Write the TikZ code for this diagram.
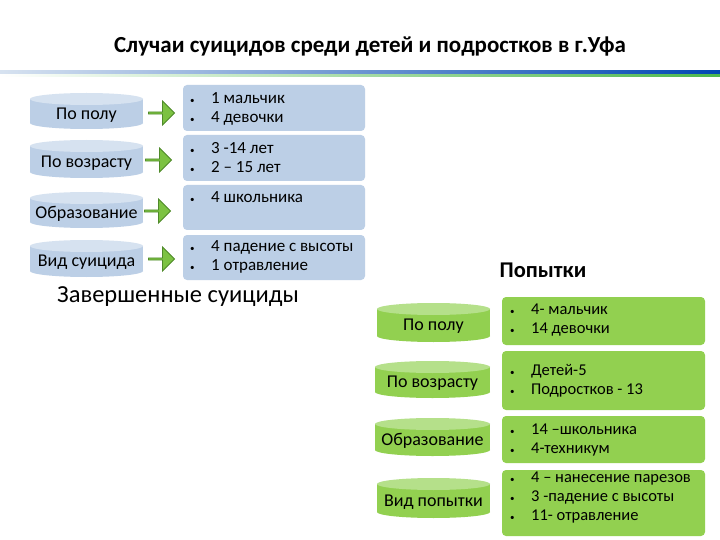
\documentclass[tikz,border=0pt]{standalone}
\usepackage{fontspec}
\setmainfont{Carlito}
\usetikzlibrary{shapes.arrows}
\definecolor{lb}{HTML}{BCCFE6}
\definecolor{lbt}{HTML}{D6E2F0}
\definecolor{gb}{HTML}{92D050}
\definecolor{gbt}{HTML}{B5E08A}
\definecolor{ag}{HTML}{7CC242}
\definecolor{agd}{HTML}{4F8A2A}
\newcommand{\mycyl}[7]{%
 \fill[#6] (#2,#4+6) rectangle (#3,#5-6);
 \fill[#6] ({(#2+#3)/2},#5-6) ellipse ({(#3-#2)/2} and 6);
 \fill[#7] ({(#2+#3)/2},#4+6) ellipse ({(#3-#2)/2} and 6);
 \node[lbl] (#1) at ({(#2+#3)/2},{(#4+#5)/2+4}) {#1};}
\tikzset{lbl/.style={font=\fontsize{18}{20}\selectfont,inner sep=0pt},
 boxL/.style={fill=lb,rounded corners=4pt},
 boxR/.style={fill=gb,rounded corners=4pt},
 itm/.style={anchor=north west,align=left,inner sep=0pt},
 arr/.style={single arrow,fill=ag,draw=agd,line width=0.8pt,minimum width=24pt,minimum height=26pt,single arrow head extend=4pt,inner sep=0pt}}
\newcommand{\bl}{\makebox[21pt][l]{\small•}}
\begin{document}
\begin{tikzpicture}[x=1pt,y=-1pt]
\useasboundingbox (0,0) rectangle (720,540);
\fill[white] (0,0) rectangle (720,540);
\node[font=\bfseries\fontsize{23}{26}\selectfont] (title) at (370,47) {Случаи суицидов среди детей и подростков в г.Уфа};
\shade[left color=lb!60,right color=blue!60!cyan!70!black] (0,71) rectangle (720,74);
\shade[left color=white,right color=green!60!black!70] (0,75) rectangle (720,77);
% left
\fill[boxL] (183,85) rectangle (365,131);
\fill[boxL] (183,135) rectangle (365,181);
\fill[boxL] (183,185) rectangle (365,230);
\fill[boxL] (183,235) rectangle (365,280);
\tikzset{fl/.style={font=\fontsize{17}{19}\selectfont}}
\node[itm,fl] (t1) at (190,92) {\bl 1 мальчик\\\bl 4 девочки};
\node[itm,fl] (t2) at (190,142) {\bl 3 -14 лет\\\bl 2 – 15 лет};
\node[itm,fl] (t3) at (190,191) {\bl 4 школьника};
\node[itm,fl] (t4) at (190,240) {\bl 4 падение с высоты\\\bl 1 отравление};
\mycyl{По полу}{30}{143}{93}{129}{lb}{lbt}
\mycyl{По возрасту}{30}{143}{140}{178}{lb}{lbt}
\mycyl{Образование}{30}{143}{192}{228}{lb}{lbt}
\mycyl{Вид суицида}{30}{143}{240}{277}{lb}{lbt}
\node[arr] (a1) at (161,113) {};
\node[arr] (a2) at (158,160) {};
\node[arr] (a3) at (157,211) {};
\node[arr] (a4) at (161,259) {};
\node[font=\fontsize{24.5}{28}\selectfont] (zs) at (178,297) {Завершенные суициды};
\node[font=\bfseries\fontsize{22.5}{26}\selectfont] (pp) at (543,270) {Попытки};
% right
\fill[boxR] (502,297) rectangle (705,345);
\fill[boxR] (502,351) rectangle (705,410);
\fill[boxR] (502,416) rectangle (705,463);
\fill[boxR] (502,470) rectangle (705,536);
\tikzset{fr/.style={font=\fontsize{16.5}{19}\selectfont}}
\node[itm,fr] (r1) at (510,304) {\bl 4- мальчик\\\bl 14 девочки};
\node[itm,fr] (r2) at (510,364) {\bl Детей-5\\\bl Подростков - 13};
\node[itm,fr] (r3) at (510,424) {\bl 14 –школьника\\\bl 4-техникум};
\node[itm,fr] (r4) at (510,472) {\bl 4 – нанесение парезов\\\bl 3 -падение с высоты\\\bl 11- отравление};
\mycyl{По полу }{377}{490}{303}{342}{gb}{gbt}
\mycyl{По возрасту }{375}{490}{361}{398}{gb}{gbt}
\mycyl{Образование }{375}{490}{418}{456}{gb}{gbt}
\mycyl{Вид попытки}{377}{490}{478}{518}{gb}{gbt}
\end{tikzpicture}
\end{document}
